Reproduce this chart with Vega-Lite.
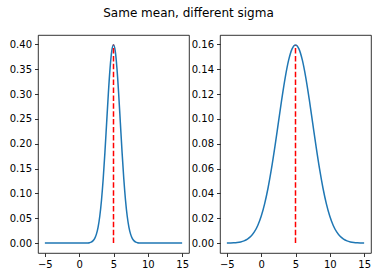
{
  "$schema": "https://vega.github.io/schema/vega-lite/v6.json",
  "padding": {"left": 5, "top": 6, "right": 5, "bottom": 5},
  "title": {"text": "Same mean, different sigma", "anchor": "middle", "fontSize": 12, "fontWeight": "normal", "font": "DejaVu Sans", "color": "#000", "offset": 15},
  "datasets": {
    "narrow": [
      {"x": -5, "pdf": 0}, {"x": -4, "pdf": 0}, {"x": -3, "pdf": 0}, {"x": -2, "pdf": 0}, {"x": -1, "pdf": 0}, {"x": 0, "pdf": 0.0000015},
      {"x": 1, "pdf": 0.00013}, {"x": 1.25, "pdf": 0.00035}, {"x": 1.5, "pdf": 0.00087}, {"x": 1.75, "pdf": 0.00203},
      {"x": 2, "pdf": 0.00443}, {"x": 2.25, "pdf": 0.00909}, {"x": 2.5, "pdf": 0.01753}, {"x": 2.75, "pdf": 0.03174},
      {"x": 3, "pdf": 0.05399}, {"x": 3.25, "pdf": 0.08628}, {"x": 3.5, "pdf": 0.12952}, {"x": 3.75, "pdf": 0.18265},
      {"x": 4, "pdf": 0.24197}, {"x": 4.25, "pdf": 0.30114}, {"x": 4.5, "pdf": 0.35207}, {"x": 4.75, "pdf": 0.38667},
      {"x": 5, "pdf": 0.39894},
      {"x": 5.25, "pdf": 0.38667}, {"x": 5.5, "pdf": 0.35207}, {"x": 5.75, "pdf": 0.30114}, {"x": 6, "pdf": 0.24197},
      {"x": 6.25, "pdf": 0.18265}, {"x": 6.5, "pdf": 0.12952}, {"x": 6.75, "pdf": 0.08628}, {"x": 7, "pdf": 0.05399},
      {"x": 7.25, "pdf": 0.03174}, {"x": 7.5, "pdf": 0.01753}, {"x": 7.75, "pdf": 0.00909}, {"x": 8, "pdf": 0.00443},
      {"x": 8.25, "pdf": 0.00203}, {"x": 8.5, "pdf": 0.00087}, {"x": 8.75, "pdf": 0.00035}, {"x": 9, "pdf": 0.00013},
      {"x": 10, "pdf": 0.0000015}, {"x": 11, "pdf": 0}, {"x": 12, "pdf": 0}, {"x": 13, "pdf": 0}, {"x": 14, "pdf": 0}, {"x": 15, "pdf": 0}
    ],
    "wide": [
      {"x": -5, "pdf": 0.00005}, {"x": -4.5, "pdf": 0.00012}, {"x": -4, "pdf": 0.00024}, {"x": -3.5, "pdf": 0.00049},
      {"x": -3, "pdf": 0.00095}, {"x": -2.5, "pdf": 0.00177}, {"x": -2, "pdf": 0.00317}, {"x": -1.5, "pdf": 0.00543},
      {"x": -1, "pdf": 0.00896}, {"x": -0.5, "pdf": 0.01419}, {"x": 0, "pdf": 0.0216}, {"x": 0.5, "pdf": 0.03158},
      {"x": 1, "pdf": 0.04437}, {"x": 1.5, "pdf": 0.05989}, {"x": 2, "pdf": 0.07767}, {"x": 2.5, "pdf": 0.09679},
      {"x": 3, "pdf": 0.11588}, {"x": 3.5, "pdf": 0.13329}, {"x": 4, "pdf": 0.14731}, {"x": 4.5, "pdf": 0.15642},
      {"x": 5, "pdf": 0.15958},
      {"x": 5.5, "pdf": 0.15642}, {"x": 6, "pdf": 0.14731}, {"x": 6.5, "pdf": 0.13329}, {"x": 7, "pdf": 0.11588},
      {"x": 7.5, "pdf": 0.09679}, {"x": 8, "pdf": 0.07767}, {"x": 8.5, "pdf": 0.05989}, {"x": 9, "pdf": 0.04437},
      {"x": 9.5, "pdf": 0.03158}, {"x": 10, "pdf": 0.0216}, {"x": 10.5, "pdf": 0.01419}, {"x": 11, "pdf": 0.00896},
      {"x": 11.5, "pdf": 0.00543}, {"x": 12, "pdf": 0.00317}, {"x": 12.5, "pdf": 0.00177}, {"x": 13, "pdf": 0.00095},
      {"x": 13.5, "pdf": 0.00049}, {"x": 14, "pdf": 0.00024}, {"x": 14.5, "pdf": 0.00012}, {"x": 15, "pdf": 0.00005}
    ],
    "narrowMean": [{"mu": 5, "base": 0, "top": 0.39894}],
    "wideMean": [{"mu": 5, "base": 0, "top": 0.15958}]
  },
  "spacing": 0,
  "hconcat": [
    {
      "width": 151,
      "height": 218,
      "encoding": {
        "x": {"type": "quantitative", "scale": {"domain": [-6, 16], "nice": false, "zero": false}, "axis": {"values": [-5, 0, 5, 10, 15], "title": null, "labelOverlap": false}},
        "y": {"type": "quantitative", "scale": {"domain": [-0.01995, 0.4188], "nice": false, "zero": false}, "axis": {"values": [0, 0.05, 0.1, 0.15, 0.2, 0.25, 0.3, 0.35, 0.4], "format": ".2f", "title": null, "labelOverlap": false, "minExtent": 32, "maxExtent": 32}}
      },
      "layer": [
        {
          "data": {"name": "narrow"},
          "mark": {"type": "line", "color": "#1f77b4", "strokeWidth": 1.5, "interpolate": "monotone"},
          "encoding": {
            "x": {"field": "x"},
            "y": {"field": "pdf"}
          }
        },
        {
          "data": {"name": "narrowMean"},
          "mark": {"type": "rule", "color": "#ff0000", "strokeWidth": 1.5, "strokeDash": [5.5, 2.4]},
          "encoding": {
            "x": {"field": "mu"},
            "y": {"field": "base"},
            "y2": {"field": "top"}
          }
        }
      ]
    },
    {
      "width": 151,
      "height": 218,
      "encoding": {
        "x": {"type": "quantitative", "scale": {"domain": [-6, 16], "nice": false, "zero": false}, "axis": {"values": [-5, 0, 5, 10, 15], "title": null, "labelOverlap": false}},
        "y": {"type": "quantitative", "scale": {"domain": [-0.00798, 0.16756], "nice": false, "zero": false}, "axis": {"values": [0, 0.02, 0.04, 0.06, 0.08, 0.1, 0.12, 0.14, 0.16], "format": ".2f", "title": null, "labelOverlap": false, "minExtent": 28, "maxExtent": 28}}
      },
      "layer": [
        {
          "data": {"name": "wide"},
          "mark": {"type": "line", "color": "#1f77b4", "strokeWidth": 1.5, "interpolate": "monotone"},
          "encoding": {
            "x": {"field": "x"},
            "y": {"field": "pdf"}
          }
        },
        {
          "data": {"name": "wideMean"},
          "mark": {"type": "rule", "color": "#ff0000", "strokeWidth": 1.5, "strokeDash": [5.5, 2.4]},
          "encoding": {
            "x": {"field": "mu"},
            "y": {"field": "base"},
            "y2": {"field": "top"}
          }
        }
      ]
    }
  ],
  "config": {
    "view": {"stroke": "#000", "strokeWidth": 0.8},
    "axis": {
      "domain": false,
      "grid": false,
      "ticks": true,
      "tickColor": "#000",
      "tickSize": 3.5,
      "tickWidth": 0.8,
      "labelFont": "DejaVu Sans",
      "labelFontSize": 10,
      "labelColor": "#000",
      "labelPadding": 3,
      "labelFlush": false,
      "labelOverlap": false
    }
  }
}
